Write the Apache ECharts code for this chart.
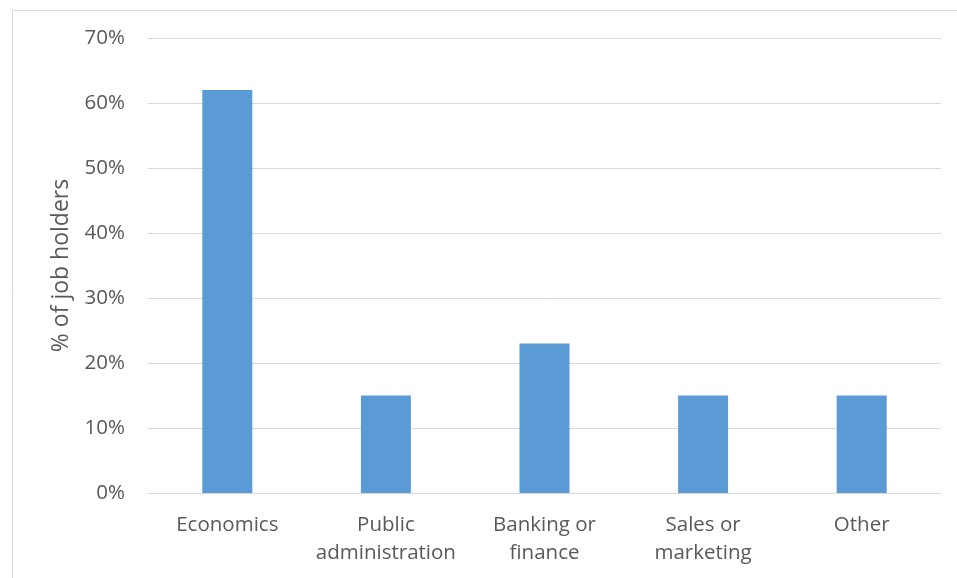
<!DOCTYPE html>
<html>
<head>
<meta charset="utf-8">
<script src="https://cdn.jsdelivr.net/npm/echarts@6/dist/echarts.min.js"></script>
<style>
  html, body { margin: 0; padding: 0; background: #ffffff; }
  #chart { width: 957px; height: 578px; }
</style>
</head>
<body>
<div id="chart"></div>
<script>
// Field of current job, share of job holders
const categories = ['Economics', 'Public\nadministration', 'Banking or\nfinance', 'Sales or\nmarketing', 'Other'];
const shares = [62, 15, 23, 15, 15];
const axisTitle = '% of job holders';

const FONT = '"Open Sans", "Noto Sans", sans-serif';
const TEXT_COLOR = '#595959';

const chart = echarts.init(document.getElementById('chart'), null, { renderer: 'canvas' });

chart.setOption({
  backgroundColor: '#ffffff',
  animation: false,
  graphic: [{
    type: 'rect',
    left: 10,
    top: 8,
    shape: { width: 1000, height: 700 },
    style: { fill: 'none', stroke: '#d9d9d9', lineWidth: 1 },
    silent: true
  }],
  grid: { left: 148, right: 16, top: 38, bottom: 85 },
  xAxis: {
    type: 'category',
    data: categories,
    axisLine: { show: true, lineStyle: { color: '#d9d9d9', width: 1 } },
    axisTick: { show: false },
    axisLabel: {
      color: TEXT_COLOR,
      fontFamily: FONT,
      fontSize: 20.5,
      lineHeight: 28,
      margin: 18,
      interval: 0
    }
  },
  yAxis: {
    type: 'value',
    min: 0,
    max: 70,
    interval: 10,
    name: axisTitle,
    nameLocation: 'middle',
    nameRotate: 90,
    nameGap: 75,
    nameTextStyle: { color: TEXT_COLOR, fontFamily: FONT, fontSize: 23 },
    axisLine: { show: false },
    axisTick: { show: false },
    splitLine: { lineStyle: { color: '#d9d9d9', width: 1 } },
    axisLabel: {
      color: TEXT_COLOR,
      fontFamily: FONT,
      fontSize: 20.5,
      margin: 23,
      formatter: v => v + '%'
    }
  },
  series: [{
    type: 'bar',
    data: shares,
    barWidth: 50,
    itemStyle: { color: '#5b9bd5' }
  }]
});
</script>
</body>
</html>
